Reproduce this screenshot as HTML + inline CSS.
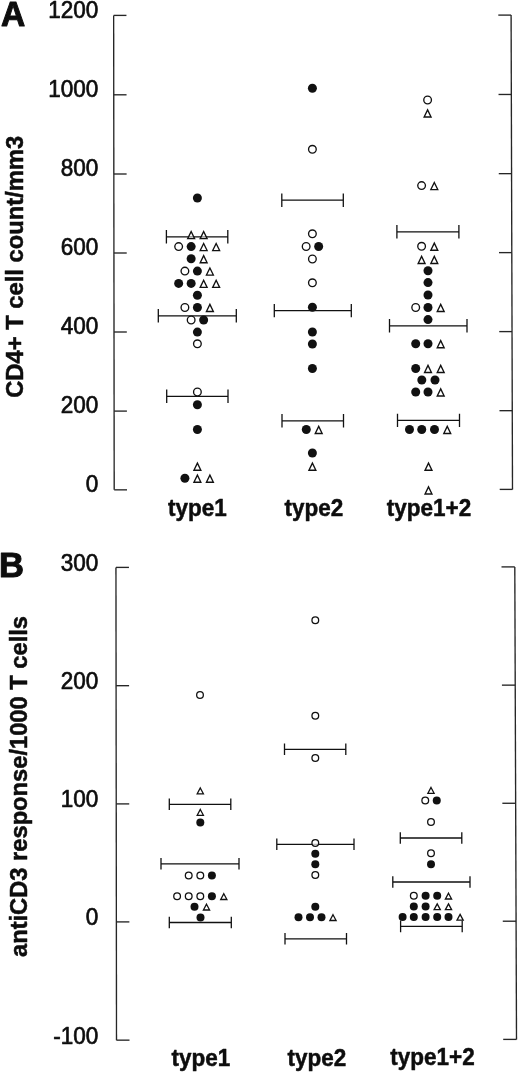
<!DOCTYPE html>
<html lang="en"><head><meta charset="utf-8"><title>Figure</title>
<style>html,body{margin:0;padding:0;background:#fff}svg{display:block}text{font-family:"Liberation Sans",Arial,Helvetica,sans-serif;fill:#0d0d0d}</style>
</head><body>
<svg width="520" height="1075" viewBox="0 0 520 1075">
<rect width="520" height="1075" fill="#fff"/>
<path d="M113.65 15.4L114.2 489.85" fill="none" stroke="#262626" stroke-width="1.35"/>
<path d="M113.65 15.4h12.8" fill="none" stroke="#262626" stroke-width="1.35"/>
<path d="M113.74 94.8h12.8" fill="none" stroke="#262626" stroke-width="1.35"/>
<path d="M113.83 174h12.8" fill="none" stroke="#262626" stroke-width="1.35"/>
<path d="M113.93 253h12.8" fill="none" stroke="#262626" stroke-width="1.35"/>
<path d="M114.02 332h12.8" fill="none" stroke="#262626" stroke-width="1.35"/>
<path d="M114.11 411.1h12.8" fill="none" stroke="#262626" stroke-width="1.35"/>
<path d="M114.2 489.85h12.8" fill="none" stroke="#262626" stroke-width="1.35"/>
<path d="M511.1 15.1L512.5 489.4" fill="none" stroke="#262626" stroke-width="1.35"/>
<path d="M511.1 15.1h-12.8" fill="none" stroke="#262626" stroke-width="1.35"/>
<path d="M511.33 94.47h-12.8" fill="none" stroke="#262626" stroke-width="1.35"/>
<path d="M511.57 173.65h-12.8" fill="none" stroke="#262626" stroke-width="1.35"/>
<path d="M511.8 252.62h-12.8" fill="none" stroke="#262626" stroke-width="1.35"/>
<path d="M512.03 331.6h-12.8" fill="none" stroke="#262626" stroke-width="1.35"/>
<path d="M512.27 410.68h-12.8" fill="none" stroke="#262626" stroke-width="1.35"/>
<path d="M512.5 489.4h-12.8" fill="none" stroke="#262626" stroke-width="1.35"/>
<text transform="translate(98.3 18.35) scale(0.92 1)" font-size="24.5" text-anchor="end" stroke="#0d0d0d" stroke-width="0.7" stroke-linejoin="round">1200</text>
<text transform="translate(98.3 97.35) scale(0.92 1)" font-size="24.5" text-anchor="end" stroke="#0d0d0d" stroke-width="0.7" stroke-linejoin="round">1000</text>
<text transform="translate(98.3 176.35) scale(0.92 1)" font-size="24.5" text-anchor="end" stroke="#0d0d0d" stroke-width="0.7" stroke-linejoin="round">800</text>
<text transform="translate(98.3 255.35) scale(0.92 1)" font-size="24.5" text-anchor="end" stroke="#0d0d0d" stroke-width="0.7" stroke-linejoin="round">600</text>
<text transform="translate(98.3 334.35) scale(0.92 1)" font-size="24.5" text-anchor="end" stroke="#0d0d0d" stroke-width="0.7" stroke-linejoin="round">400</text>
<text transform="translate(98.3 413.35) scale(0.92 1)" font-size="24.5" text-anchor="end" stroke="#0d0d0d" stroke-width="0.7" stroke-linejoin="round">200</text>
<text transform="translate(98.3 492.35) scale(0.92 1)" font-size="24.5" text-anchor="end" stroke="#0d0d0d" stroke-width="0.7" stroke-linejoin="round">0</text>
<text transform="translate(0.9 26) scale(0.97 1)" font-size="34.6" font-weight="700" text-anchor="start" stroke="#0d0d0d" stroke-width="1" stroke-linejoin="round">A</text>
<text transform="translate(23.1 397.8) rotate(-90)" font-size="23.2" font-weight="700" textLength="262" lengthAdjust="spacingAndGlyphs" stroke="#0d0d0d" stroke-width="0.5" stroke-linejoin="round">CD4+ T cell count/mm3</text>
<text transform="translate(197.4 516.2) scale(0.93 1)" font-size="24.2" font-weight="700" text-anchor="middle" stroke="#0d0d0d" stroke-width="0.5" stroke-linejoin="round">type1</text>
<text transform="translate(313.8 516.2) scale(0.93 1)" font-size="24.2" font-weight="700" text-anchor="middle" stroke="#0d0d0d" stroke-width="0.5" stroke-linejoin="round">type2</text>
<text transform="translate(429 516.2) scale(0.93 1)" font-size="24.2" font-weight="700" text-anchor="middle" stroke="#0d0d0d" stroke-width="0.5" stroke-linejoin="round">type1+2</text>
<path d="M166.4 236.8H227.8M166.4 230.1V243.5M227.8 230.1V243.5" fill="none" stroke="#111" stroke-width="1.3"/>
<path d="M158.3 315.8H236.3M158.3 309.1V322.5M236.3 309.1V322.5" fill="none" stroke="#111" stroke-width="1.3"/>
<path d="M166.7 396.3H228M166.7 389.6V403M228 389.6V403" fill="none" stroke="#111" stroke-width="1.3"/>
<path d="M281.8 200.2H343.3M281.8 193.5V206.9M343.3 193.5V206.9" fill="none" stroke="#111" stroke-width="1.3"/>
<path d="M274.3 310.6H351.3M274.3 303.9V317.3M351.3 303.9V317.3" fill="none" stroke="#111" stroke-width="1.3"/>
<path d="M282 420.8H343.5M282 414.1V427.5M343.5 414.1V427.5" fill="none" stroke="#111" stroke-width="1.3"/>
<path d="M396.9 231.8H458.9M396.9 225.1V238.5M458.9 225.1V238.5" fill="none" stroke="#111" stroke-width="1.3"/>
<path d="M389.5 325.8H467M389.5 319.1V332.5M467 319.1V332.5" fill="none" stroke="#111" stroke-width="1.3"/>
<path d="M397.5 420.4H459.5M397.5 413.7V427.1M459.5 413.7V427.1" fill="none" stroke="#111" stroke-width="1.3"/>
<circle cx="197.4" cy="198" r="4.5" fill="#111"/>
<path d="M191.15 231.56L194.61 238.67L187.69 238.67Z" fill="#fff" fill-opacity="0.5" stroke="#111" stroke-width="1.35" stroke-linejoin="miter"/>
<path d="M203.65 231.56L207.11 238.67L200.19 238.67Z" fill="#fff" fill-opacity="0.5" stroke="#111" stroke-width="1.35" stroke-linejoin="miter"/>
<circle cx="178.65" cy="246.6" r="3.83" fill="#fff" fill-opacity="1" stroke="#111" stroke-width="1.35"/>
<circle cx="191.15" cy="246.6" r="4.5" fill="#111"/>
<path d="M203.65 243.46L207.11 250.57L200.19 250.57Z" fill="#fff" fill-opacity="1" stroke="#111" stroke-width="1.35" stroke-linejoin="miter"/>
<path d="M216.15 243.46L219.61 250.57L212.69 250.57Z" fill="#fff" fill-opacity="1" stroke="#111" stroke-width="1.35" stroke-linejoin="miter"/>
<circle cx="191.15" cy="258.8" r="4.5" fill="#111"/>
<path d="M203.65 255.66L207.11 262.77L200.19 262.77Z" fill="#fff" fill-opacity="1" stroke="#111" stroke-width="1.35" stroke-linejoin="miter"/>
<circle cx="184.9" cy="271.1" r="3.83" fill="#fff" fill-opacity="1" stroke="#111" stroke-width="1.35"/>
<circle cx="197.4" cy="271.1" r="4.5" fill="#111"/>
<path d="M209.9 267.96L213.36 275.07L206.44 275.07Z" fill="#fff" fill-opacity="1" stroke="#111" stroke-width="1.35" stroke-linejoin="miter"/>
<circle cx="178.65" cy="283.4" r="4.5" fill="#111"/>
<circle cx="191.15" cy="283.4" r="4.5" fill="#111"/>
<path d="M203.65 280.26L207.11 287.37L200.19 287.37Z" fill="#fff" fill-opacity="1" stroke="#111" stroke-width="1.35" stroke-linejoin="miter"/>
<path d="M216.15 280.26L219.61 287.37L212.69 287.37Z" fill="#fff" fill-opacity="1" stroke="#111" stroke-width="1.35" stroke-linejoin="miter"/>
<circle cx="197.4" cy="295.2" r="4.5" fill="#111"/>
<circle cx="184.9" cy="307.5" r="3.83" fill="#fff" fill-opacity="1" stroke="#111" stroke-width="1.35"/>
<circle cx="197.4" cy="307.5" r="4.5" fill="#111"/>
<path d="M209.9 304.36L213.36 311.47L206.44 311.47Z" fill="#fff" fill-opacity="1" stroke="#111" stroke-width="1.35" stroke-linejoin="miter"/>
<circle cx="191.15" cy="320" r="3.83" fill="#fff" fill-opacity="1" stroke="#111" stroke-width="1.35"/>
<circle cx="203.65" cy="320" r="4.5" fill="#111"/>
<circle cx="197.4" cy="332.1" r="4.5" fill="#111"/>
<circle cx="197.4" cy="343.8" r="3.83" fill="#fff" fill-opacity="1" stroke="#111" stroke-width="1.35"/>
<circle cx="197.4" cy="392" r="3.83" fill="#fff" fill-opacity="1" stroke="#111" stroke-width="1.35"/>
<circle cx="197.4" cy="404.7" r="4.5" fill="#111"/>
<circle cx="197.4" cy="429.5" r="4.5" fill="#111"/>
<path d="M197.4 463.16L200.86 470.27L193.94 470.27Z" fill="#fff" fill-opacity="1" stroke="#111" stroke-width="1.35" stroke-linejoin="miter"/>
<circle cx="184.9" cy="478.3" r="4.5" fill="#111"/>
<path d="M197.4 475.16L200.86 482.27L193.94 482.27Z" fill="#fff" fill-opacity="1" stroke="#111" stroke-width="1.35" stroke-linejoin="miter"/>
<path d="M209.9 475.16L213.36 482.27L206.44 482.27Z" fill="#fff" fill-opacity="1" stroke="#111" stroke-width="1.35" stroke-linejoin="miter"/>
<circle cx="312.4" cy="88.3" r="4.5" fill="#111"/>
<circle cx="312.4" cy="149.3" r="3.83" fill="#fff" fill-opacity="1" stroke="#111" stroke-width="1.35"/>
<circle cx="312.4" cy="233.8" r="3.83" fill="#fff" fill-opacity="1" stroke="#111" stroke-width="1.35"/>
<circle cx="306.15" cy="246.5" r="3.83" fill="#fff" fill-opacity="1" stroke="#111" stroke-width="1.35"/>
<circle cx="318.65" cy="246.5" r="4.5" fill="#111"/>
<circle cx="312.4" cy="259" r="3.83" fill="#fff" fill-opacity="1" stroke="#111" stroke-width="1.35"/>
<circle cx="312.4" cy="282.8" r="3.83" fill="#fff" fill-opacity="1" stroke="#111" stroke-width="1.35"/>
<circle cx="312.4" cy="307.3" r="4.5" fill="#111"/>
<circle cx="312.4" cy="332" r="4.5" fill="#111"/>
<circle cx="312.4" cy="344" r="4.5" fill="#111"/>
<circle cx="312.4" cy="368.5" r="4.5" fill="#111"/>
<circle cx="306.3" cy="429.5" r="4.5" fill="#111"/>
<path d="M318.7 426.36L322.16 433.47L315.24 433.47Z" fill="#fff" fill-opacity="1" stroke="#111" stroke-width="1.35" stroke-linejoin="miter"/>
<circle cx="312.4" cy="453" r="4.5" fill="#111"/>
<path d="M312.4 463.16L315.86 470.27L308.94 470.27Z" fill="#fff" fill-opacity="1" stroke="#111" stroke-width="1.35" stroke-linejoin="miter"/>
<circle cx="427.6" cy="100" r="3.83" fill="#fff" fill-opacity="1" stroke="#111" stroke-width="1.35"/>
<path d="M427.6 109.86L431.06 116.98L424.14 116.98Z" fill="#fff" fill-opacity="1" stroke="#111" stroke-width="1.35" stroke-linejoin="miter"/>
<circle cx="421.6" cy="185.6" r="3.83" fill="#fff" fill-opacity="1" stroke="#111" stroke-width="1.35"/>
<path d="M434.3 182.46L437.76 189.57L430.84 189.57Z" fill="#fff" fill-opacity="1" stroke="#111" stroke-width="1.35" stroke-linejoin="miter"/>
<circle cx="421.6" cy="246.3" r="3.83" fill="#fff" fill-opacity="1" stroke="#111" stroke-width="1.35"/>
<path d="M434.3 243.16L437.76 250.28L430.84 250.28Z" fill="#fff" fill-opacity="1" stroke="#111" stroke-width="1.35" stroke-linejoin="miter"/>
<path d="M421.6 256.36L425.06 263.47L418.14 263.47Z" fill="#fff" fill-opacity="1" stroke="#111" stroke-width="1.35" stroke-linejoin="miter"/>
<path d="M434.3 256.36L437.76 263.47L430.84 263.47Z" fill="#fff" fill-opacity="1" stroke="#111" stroke-width="1.35" stroke-linejoin="miter"/>
<circle cx="428" cy="270.8" r="4.5" fill="#111"/>
<circle cx="428" cy="282.6" r="4.5" fill="#111"/>
<circle cx="428" cy="295" r="4.5" fill="#111"/>
<circle cx="415.7" cy="307.5" r="3.83" fill="#fff" fill-opacity="1" stroke="#111" stroke-width="1.35"/>
<circle cx="428" cy="307.5" r="4.5" fill="#111"/>
<path d="M440.7 304.36L444.16 311.47L437.24 311.47Z" fill="#fff" fill-opacity="1" stroke="#111" stroke-width="1.35" stroke-linejoin="miter"/>
<circle cx="428" cy="319.6" r="4.5" fill="#111"/>
<circle cx="415.7" cy="343.8" r="4.5" fill="#111"/>
<circle cx="428" cy="343.8" r="4.5" fill="#111"/>
<path d="M440.7 340.66L444.16 347.77L437.24 347.77Z" fill="#fff" fill-opacity="1" stroke="#111" stroke-width="1.35" stroke-linejoin="miter"/>
<circle cx="415.7" cy="368.5" r="4.5" fill="#111"/>
<path d="M428 365.36L431.46 372.47L424.54 372.47Z" fill="#fff" fill-opacity="1" stroke="#111" stroke-width="1.35" stroke-linejoin="miter"/>
<path d="M440.7 365.36L444.16 372.47L437.24 372.47Z" fill="#fff" fill-opacity="1" stroke="#111" stroke-width="1.35" stroke-linejoin="miter"/>
<circle cx="421.8" cy="380" r="4.5" fill="#111"/>
<circle cx="435" cy="380" r="4.5" fill="#111"/>
<circle cx="415.7" cy="392" r="4.5" fill="#111"/>
<circle cx="428" cy="392" r="4.5" fill="#111"/>
<path d="M440.7 388.86L444.16 395.97L437.24 395.97Z" fill="#fff" fill-opacity="1" stroke="#111" stroke-width="1.35" stroke-linejoin="miter"/>
<circle cx="409.5" cy="429.5" r="4.5" fill="#111"/>
<circle cx="421.75" cy="429.5" r="4.5" fill="#111"/>
<circle cx="434.5" cy="429.5" r="4.5" fill="#111"/>
<path d="M447.25 426.36L450.71 433.47L443.79 433.47Z" fill="#fff" fill-opacity="1" stroke="#111" stroke-width="1.35" stroke-linejoin="miter"/>
<path d="M428.5 463.16L431.96 470.27L425.04 470.27Z" fill="#fff" fill-opacity="1" stroke="#111" stroke-width="1.35" stroke-linejoin="miter"/>
<path d="M428.5 486.86L431.96 493.97L425.04 493.97Z" fill="#fff" fill-opacity="1" stroke="#111" stroke-width="1.35" stroke-linejoin="miter"/>
<path d="M115.95 567.4L116.5 1040.15" fill="none" stroke="#262626" stroke-width="1.35"/>
<path d="M115.95 567.4h13" fill="none" stroke="#262626" stroke-width="1.35"/>
<path d="M116.09 685.7h13" fill="none" stroke="#262626" stroke-width="1.35"/>
<path d="M116.23 803.9h13" fill="none" stroke="#262626" stroke-width="1.35"/>
<path d="M116.36 921.9h13" fill="none" stroke="#262626" stroke-width="1.35"/>
<path d="M116.5 1040.15h13" fill="none" stroke="#262626" stroke-width="1.35"/>
<path d="M514.8 566.9L516.5 1039.4" fill="none" stroke="#262626" stroke-width="1.35"/>
<path d="M514.8 566.9h-13.3" fill="none" stroke="#262626" stroke-width="1.35"/>
<path d="M515.23 685.14h-13.3" fill="none" stroke="#262626" stroke-width="1.35"/>
<path d="M515.65 803.27h-13.3" fill="none" stroke="#262626" stroke-width="1.35"/>
<path d="M516.07 921.21h-13.3" fill="none" stroke="#262626" stroke-width="1.35"/>
<path d="M516.5 1039.4h-13.3" fill="none" stroke="#262626" stroke-width="1.35"/>
<text transform="translate(98.3 570.55) scale(0.92 1)" font-size="24.5" text-anchor="end" stroke="#0d0d0d" stroke-width="0.7" stroke-linejoin="round">300</text>
<text transform="translate(98.3 688.82) scale(0.92 1)" font-size="24.5" text-anchor="end" stroke="#0d0d0d" stroke-width="0.7" stroke-linejoin="round">200</text>
<text transform="translate(98.3 807.1) scale(0.92 1)" font-size="24.5" text-anchor="end" stroke="#0d0d0d" stroke-width="0.7" stroke-linejoin="round">100</text>
<text transform="translate(98.3 925.38) scale(0.92 1)" font-size="24.5" text-anchor="end" stroke="#0d0d0d" stroke-width="0.7" stroke-linejoin="round">0</text>
<text transform="translate(98.3 1043.65) scale(0.92 1)" font-size="24.5" text-anchor="end" stroke="#0d0d0d" stroke-width="0.7" stroke-linejoin="round">-100</text>
<text transform="translate(-0.9 576.9) scale(1 1)" font-size="34.6" font-weight="700" text-anchor="start" stroke="#0d0d0d" stroke-width="1" stroke-linejoin="round">B</text>
<text transform="translate(26.9 957) rotate(-90)" font-size="23.3" font-weight="700" textLength="341" lengthAdjust="spacingAndGlyphs" stroke="#0d0d0d" stroke-width="0.5" stroke-linejoin="round">antiCD3 response/1000 T cells</text>
<text transform="translate(201 1066) scale(0.93 1)" font-size="24.2" font-weight="700" text-anchor="middle" stroke="#0d0d0d" stroke-width="0.5" stroke-linejoin="round">type1</text>
<text transform="translate(316.9 1065.6) scale(0.93 1)" font-size="24.2" font-weight="700" text-anchor="middle" stroke="#0d0d0d" stroke-width="0.5" stroke-linejoin="round">type2</text>
<text transform="translate(432.5 1065.4) scale(0.93 1)" font-size="24.2" font-weight="700" text-anchor="middle" stroke="#0d0d0d" stroke-width="0.5" stroke-linejoin="round">type1+2</text>
<path d="M169.3 804.3H230.8M169.3 798.5V810.1M230.8 798.5V810.1" fill="none" stroke="#111" stroke-width="1.3"/>
<path d="M161 863.8H239M161 858V869.6M239 858V869.6" fill="none" stroke="#111" stroke-width="1.3"/>
<path d="M169.3 922.5H231.3M169.3 916.7V928.3M231.3 916.7V928.3" fill="none" stroke="#111" stroke-width="1.3"/>
<path d="M284.5 749.3H345.8M284.5 743.5V755.1M345.8 743.5V755.1" fill="none" stroke="#111" stroke-width="1.3"/>
<path d="M276.8 844.3H354M276.8 838.5V850.1M354 838.5V850.1" fill="none" stroke="#111" stroke-width="1.3"/>
<path d="M285 938.8H346.5M285 933V944.6M346.5 933V944.6" fill="none" stroke="#111" stroke-width="1.3"/>
<path d="M400.3 838H461.8M400.3 832.2V843.8M461.8 832.2V843.8" fill="none" stroke="#111" stroke-width="1.3"/>
<path d="M392.8 882H470M392.8 876.2V887.8M470 876.2V887.8" fill="none" stroke="#111" stroke-width="1.3"/>
<path d="M400.6 926.4H462.2M400.6 920.6V932.2M462.2 920.6V932.2" fill="none" stroke="#111" stroke-width="1.3"/>
<circle cx="200" cy="695" r="3.35" fill="#fff" fill-opacity="1" stroke="#111" stroke-width="1.3"/>
<path d="M200.3 788L203.4 793.8L197.2 793.8Z" fill="#fff" fill-opacity="1" stroke="#111" stroke-width="1.3" stroke-linejoin="miter"/>
<path d="M200.3 809.5L203.4 815.3L197.2 815.3Z" fill="#fff" fill-opacity="1" stroke="#111" stroke-width="1.3" stroke-linejoin="miter"/>
<circle cx="200.3" cy="822.5" r="4" fill="#111"/>
<circle cx="188.7" cy="875.5" r="3.35" fill="#fff" fill-opacity="1" stroke="#111" stroke-width="1.3"/>
<circle cx="200.3" cy="875.5" r="3.35" fill="#fff" fill-opacity="1" stroke="#111" stroke-width="1.3"/>
<circle cx="211.9" cy="875.5" r="4" fill="#111"/>
<circle cx="177.1" cy="896.2" r="3.35" fill="#fff" fill-opacity="1" stroke="#111" stroke-width="1.3"/>
<circle cx="188.7" cy="896.2" r="3.35" fill="#fff" fill-opacity="1" stroke="#111" stroke-width="1.3"/>
<circle cx="200.3" cy="896.2" r="3.35" fill="#fff" fill-opacity="1" stroke="#111" stroke-width="1.3"/>
<circle cx="211.9" cy="896.2" r="4" fill="#111"/>
<path d="M223.8 893.7L226.9 899.5L220.7 899.5Z" fill="#fff" fill-opacity="1" stroke="#111" stroke-width="1.3" stroke-linejoin="miter"/>
<circle cx="194.5" cy="906.7" r="4" fill="#111"/>
<path d="M206.5 904.2L209.6 910L203.4 910Z" fill="#fff" fill-opacity="1" stroke="#111" stroke-width="1.3" stroke-linejoin="miter"/>
<circle cx="200.5" cy="917.4" r="4" fill="#111"/>
<circle cx="315.3" cy="620.3" r="3.35" fill="#fff" fill-opacity="1" stroke="#111" stroke-width="1.3"/>
<circle cx="315.3" cy="715.8" r="3.35" fill="#fff" fill-opacity="1" stroke="#111" stroke-width="1.3"/>
<circle cx="315.3" cy="758" r="3.35" fill="#fff" fill-opacity="1" stroke="#111" stroke-width="1.3"/>
<circle cx="315.3" cy="843" r="3.35" fill="#fff" fill-opacity="0.7" stroke="#111" stroke-width="1.3"/>
<circle cx="315.3" cy="853.7" r="4" fill="#111"/>
<circle cx="315.3" cy="864.3" r="4" fill="#111"/>
<circle cx="315.3" cy="875" r="3.35" fill="#fff" fill-opacity="1" stroke="#111" stroke-width="1.3"/>
<circle cx="315.3" cy="906.7" r="4" fill="#111"/>
<circle cx="298.5" cy="917.2" r="4" fill="#111"/>
<circle cx="310" cy="917.2" r="4" fill="#111"/>
<circle cx="321.5" cy="917.2" r="4" fill="#111"/>
<path d="M333 914.7L336.1 920.5L329.9 920.5Z" fill="#fff" fill-opacity="1" stroke="#111" stroke-width="1.3" stroke-linejoin="miter"/>
<path d="M431 787.5L434.1 793.3L427.9 793.3Z" fill="#fff" fill-opacity="1" stroke="#111" stroke-width="1.3" stroke-linejoin="miter"/>
<circle cx="425.25" cy="800.5" r="3.35" fill="#fff" fill-opacity="1" stroke="#111" stroke-width="1.3"/>
<circle cx="436.75" cy="800.5" r="4" fill="#111"/>
<circle cx="431" cy="822" r="3.35" fill="#fff" fill-opacity="1" stroke="#111" stroke-width="1.3"/>
<circle cx="431" cy="853.3" r="3.35" fill="#fff" fill-opacity="1" stroke="#111" stroke-width="1.3"/>
<circle cx="431" cy="864.3" r="4" fill="#111"/>
<circle cx="413.8" cy="895.7" r="3.35" fill="#fff" fill-opacity="1" stroke="#111" stroke-width="1.3"/>
<circle cx="425.6" cy="895.7" r="4" fill="#111"/>
<circle cx="437.2" cy="895.7" r="4" fill="#111"/>
<path d="M448.5 893.2L451.6 899L445.4 899Z" fill="#fff" fill-opacity="1" stroke="#111" stroke-width="1.3" stroke-linejoin="miter"/>
<circle cx="413.8" cy="906.4" r="4" fill="#111"/>
<circle cx="425.6" cy="906.4" r="4" fill="#111"/>
<path d="M437.2 903.9L440.3 909.7L434.1 909.7Z" fill="#fff" fill-opacity="1" stroke="#111" stroke-width="1.3" stroke-linejoin="miter"/>
<path d="M448.5 903.9L451.6 909.7L445.4 909.7Z" fill="#fff" fill-opacity="1" stroke="#111" stroke-width="1.3" stroke-linejoin="miter"/>
<circle cx="402.6" cy="916.9" r="4" fill="#111"/>
<circle cx="413.8" cy="916.9" r="4" fill="#111"/>
<circle cx="425.6" cy="916.9" r="4" fill="#111"/>
<circle cx="437.2" cy="916.9" r="4" fill="#111"/>
<circle cx="448.5" cy="916.9" r="4" fill="#111"/>
<path d="M460.1 914.4L463.2 920.2L457 920.2Z" fill="#fff" fill-opacity="1" stroke="#111" stroke-width="1.3" stroke-linejoin="miter"/>
</svg>
</body></html>
